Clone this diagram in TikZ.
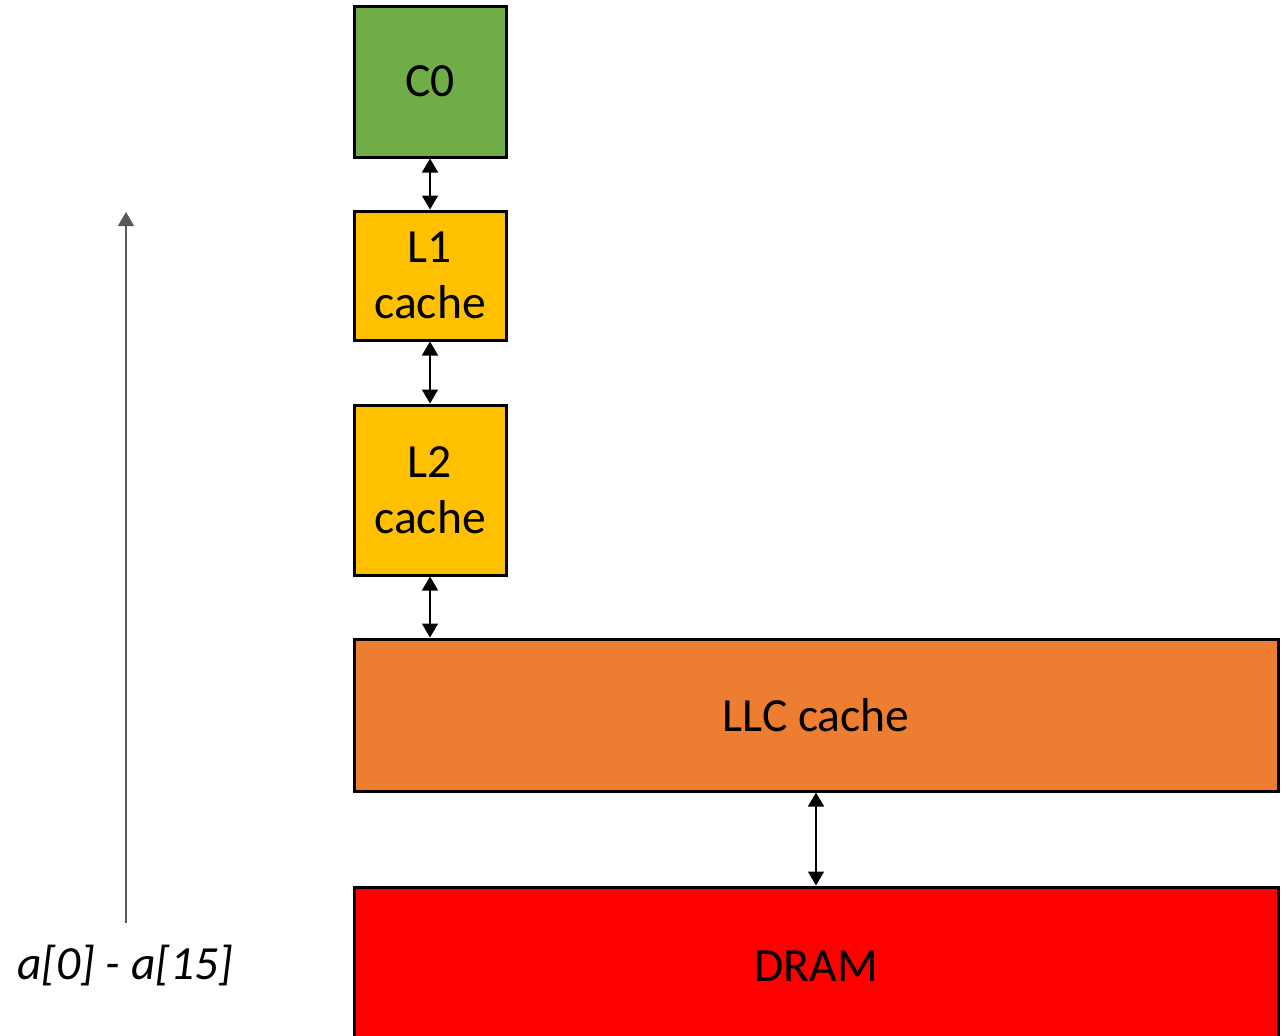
\documentclass[tikz,border=0pt]{standalone}
\usepackage{fontspec}
\setmainfont{Carlito}
\usetikzlibrary{arrows.meta,positioning}

\definecolor{coregreen}{HTML}{70AD47}
\definecolor{cachegold}{HTML}{FFC000}
\definecolor{llcorange}{HTML}{ED7D31}
\definecolor{dramred}{HTML}{FF0000}

\begin{document}
\begin{tikzpicture}[
  x=0.5pt, y=-0.5pt,
  >={Triangle[width=8pt,length=7pt]},
  unit/.style={draw,line width=1.5pt,inner sep=0pt,align=center,
    font=\fontsize{23.8}{27.8}\selectfont},
  link/.style={<->,line width=0.75pt}
]
\clip (0,0) rectangle (1288,1035);
\fill[white] (0,0) rectangle (1288,1035);

\node[unit,fill=coregreen,minimum width=76pt,minimum height=75.5pt] (c0) at (430,81.5) {C0};
\node[unit,fill=cachegold,minimum width=76pt,minimum height=64.5pt] (l1) at (430,275.5) {L1\\cache};
\node[unit,fill=cachegold,minimum width=76pt,minimum height=85pt] (l2) at (430,490) {L2\\cache};
\node[unit,fill=llcorange,minimum width=462pt,minimum height=76pt] (llc) at (816,715) {LLC cache};
\node[unit,fill=dramred,minimum width=462pt,minimum height=79pt] (dram) at (816,966) {DRAM};

\draw[link] (c0) -- (l1);
\draw[link] (l1) -- (l2);
\draw[link] (l2) -- (l2 |- llc.north);
\draw[link] (llc) -- (dram);

% address range
\node[font=\fontsize{23.8}{27.8}\selectfont\itshape,inner sep=0pt] (range) at (125,966) {a[0] - a[15]};
\coordinate (start) at (126,923);
\coordinate (top) at (126,212);
\draw[->,line width=0.75pt,draw=black!65] (start) -- (top);
\end{tikzpicture}
\end{document}
